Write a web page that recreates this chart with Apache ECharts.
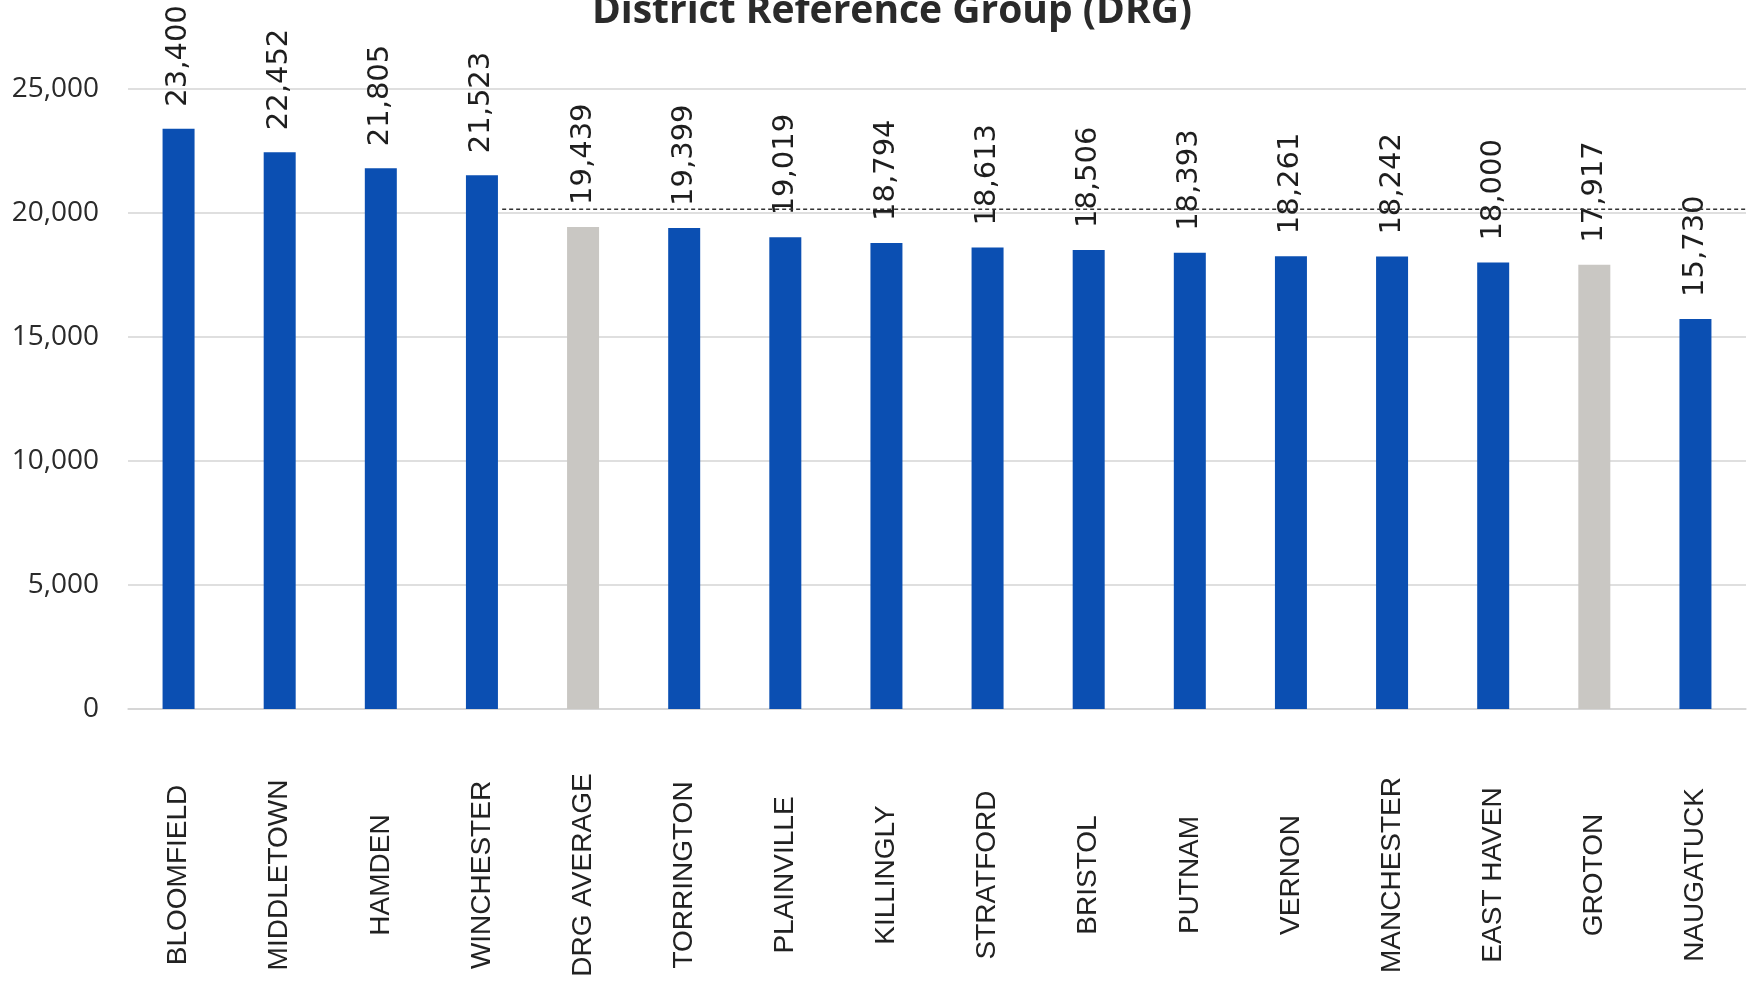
<!DOCTYPE html>
<html>
<head>
<meta charset="utf-8">
<title>District Reference Group (DRG)</title>
<script src="https://cdn.jsdelivr.net/npm/echarts@6/dist/echarts.min.js"></script>
<style>
  html, body { margin: 0; padding: 0; background: #fff; }
  #chart { width: 1748px; height: 991px; }
</style>
</head>
<body>
<div id="chart"></div>
<script>
// districts, left to right
const districts = ['BLOOMFIELD', 'MIDDLETOWN', 'HAMDEN', 'WINCHESTER', 'DRG AVERAGE', 'TORRINGTON',
  'PLAINVILLE', 'KILLINGLY', 'STRATFORD', 'BRISTOL', 'PUTNAM', 'VERNON', 'MANCHESTER',
  'EAST HAVEN', 'GROTON', 'NAUGATUCK']
const amounts = [23400, 22452, 21805, 21523, 19439, 19399, 19019, 18794, 18613, 18506, 18393,
  18261, 18242, 18000, 17917, 15730]
// these ones are drawn grey instead of blue
const greyDistricts = ['DRG AVERAGE', 'GROTON']
const yTicks = [0, 5000, 10000, 15000, 20000, 25000]
// dashed reference line (x in category units, y value)
const refLineX = [3.7, 16]
const refLineValue = 20150

const chart = echarts.init(document.getElementById('chart'))

const fmt = (v) => Number(v).toLocaleString('en-US')

const barData = districts.map((name, i) => {
  return {
    value: amounts[i],
    itemStyle: {
      color: greyDistricts.includes(name) ? '#c9c7c3' : '#0b4fb2'
    }
  }
})

const option = {
  animation: false,
  title: {
    text: 'District Reference Group (DRG)',
    left: 887,
    top: -13,
    textAlign: 'center',
    textStyle: {
      fontFamily: 'Open Sans',
      fontWeight: 'bold',
      fontSize: 39,
      color: '#2a2a2a'
    }
  },
  grid: {
    left: 128,
    right: 2,
    top: 89,
    bottom: 282
  },
  xAxis: [
    {
      type: 'category',
      data: districts,
      axisTick: { show: false },
      axisLine: { lineStyle: { color: '#d4d4d4', width: 1.5 } },
      axisLabel: {
        interval: 0,
        rotate: 90,
        align: 'center',
        verticalAlign: 'middle',
        margin: 166,
        fontFamily: 'Liberation Sans',
        fontSize: 28,
        color: '#222'
      }
    },
    {
      // hidden axis only used to place the dashed line
      type: 'value',
      min: 0,
      max: districts.length,
      show: false
    }
  ],
  yAxis: {
    type: 'value',
    min: yTicks[0],
    max: yTicks[yTicks.length - 1],
    interval: yTicks[1] - yTicks[0],
    axisLine: { show: false },
    axisTick: { show: false },
    splitLine: { lineStyle: { color: '#d4d4d4', width: 1.5 } },
    axisLabel: {
      margin: 29,
      fontFamily: 'Open Sans',
      fontSize: 28,
      color: '#2a2a2a',
      formatter: fmt
    }
  },
  series: [
    {
      type: 'bar',
      data: barData,
      barWidth: 32,
      label: {
        show: true,
        position: 'top',
        rotate: 90,
        align: 'left',
        verticalAlign: 'middle',
        distance: 22,
        fontFamily: 'DejaVu Sans',
        fontSize: 29,
        color: '#1e1e1e',
        formatter: (p) => fmt(p.value)
      }
    },
    {
      type: 'line',
      xAxisIndex: 1,
      data: [[refLineX[0], refLineValue], [refLineX[1], refLineValue]],
      symbol: 'none',
      silent: true,
      lineStyle: { color: '#333', width: 1.5, type: [4, 3] }
    }
  ]
}

chart.setOption(option)
</script>
</body>
</html>
